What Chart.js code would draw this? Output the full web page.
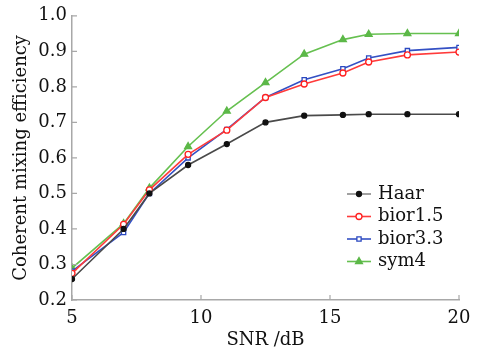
<!DOCTYPE html>
<html>
<head>
<meta charset="utf-8">
<script src="https://cdn.jsdelivr.net/npm/chart.js@4"></script>
<style>
html, body { margin: 0; padding: 0; background: #fff; }
</style>
</head>
<body>
<canvas id="chart" width="484" height="347"></canvas>
<script>
// Data
const snr = [5, 7, 8, 9.5, 11, 12.5, 14, 15.5, 16.5, 18, 20];
const haar = [0.259, 0.40, 0.50, 0.58, 0.639, 0.70, 0.719, 0.721, 0.723, 0.723, 0.723];
const bior15 = [0.275, 0.413, 0.51, 0.61, 0.678, 0.77, 0.808, 0.839, 0.87, 0.89, 0.898];
const bior33 = [0.281, 0.39, 0.50, 0.60, 0.68, 0.77, 0.82, 0.851, 0.881, 0.902, 0.911];
const sym4 = [0.29, 0.415, 0.515, 0.632, 0.732, 0.812, 0.892, 0.933, 0.948, 0.95, 0.95];
const seriesNames = ['Haar', 'bior1.5', 'bior3.3', 'sym4'];
const xTicks = [5, 10, 15, 20];
const yTicks = [0.2, 0.3, 0.4, 0.5, 0.6, 0.7, 0.8, 0.9, 1.0];

const FONT = "'DejaVu Serif', 'Liberation Serif', serif";
const AXIS_GREY = '#a8a8a8';

const toPoints = vals => snr.map((x, i) => ({ x: x, y: vals[i] }));

const styles = [
    { line: '#4a4a4a', point: '#111', fill: '#111', shape: 'circle', r: 2.5 },
    { line: '#ff3b3b', point: '#ff2020', fill: '#fff', shape: 'circle', r: 3 },
    { line: '#3450c4', point: '#2a48c0', fill: '#fff', shape: 'rect', r: 3 },
    { line: '#66c050', point: '#5cb848', fill: '#5cb848', shape: 'triangle', r: 4 }
];
const allValues = [haar, bior15, bior33, sym4];

const datasets = allValues.map((vals, i) => ({
    label: seriesNames[i],
    data: toPoints(vals),
    borderColor: styles[i].line,
    borderWidth: 1.6,
    pointStyle: styles[i].shape,
    pointRadius: styles[i].r,
    pointBorderColor: styles[i].point,
    pointBackgroundColor: styles[i].fill,
    pointBorderWidth: 1.3,
    tension: 0
}));

// short inward tick marks, like the original plot
const inwardTicks = {
    id: 'inwardTicks',
    afterDatasetsDraw(chart) {
        const { ctx, scales: { x, y } } = chart;
        ctx.save();
        ctx.strokeStyle = AXIS_GREY;
        ctx.lineWidth = 1.2;
        ctx.beginPath();
        xTicks.forEach(v => {
            const px = x.getPixelForValue(v);
            ctx.moveTo(px, y.bottom);
            ctx.lineTo(px, y.bottom - 5);
        });
        yTicks.forEach(v => {
            const py = y.getPixelForValue(v);
            ctx.moveTo(x.left, py);
            ctx.lineTo(x.left + 5, py);
        });
        ctx.stroke();
        ctx.restore();
    }
};

// legend: line segment with marker, then label
const lineLegend = {
    id: 'lineLegend',
    afterDraw(chart) {
        const ctx = chart.ctx;
        const x0 = 347, x1 = 371, tx = 378, top = 194, step = 22.5;
        ctx.save();
        ctx.font = '18px ' + FONT;
        ctx.textBaseline = 'middle';
        chart.data.datasets.forEach((ds, i) => {
            const yy = top + i * step;
            const s = styles[i];
            ctx.strokeStyle = i === 0 ? '#8a8a8a' : s.line;
            ctx.lineWidth = 1.6;
            ctx.beginPath();
            ctx.moveTo(x0, yy);
            ctx.lineTo(x1, yy);
            ctx.stroke();
            ctx.fillStyle = s.fill;
            ctx.strokeStyle = s.point;
            ctx.lineWidth = 1.3;
            Chart.helpers.drawPoint(ctx, {
                pointStyle: s.shape,
                radius: s.r,
                borderWidth: 1.3
            }, (x0 + x1) / 2, yy);
            ctx.fillStyle = '#111';
            ctx.fillText(ds.label, tx, yy);
        });
        ctx.restore();
    }
};

new Chart(document.getElementById('chart'), {
    type: 'line',
    data: { datasets: datasets },
    options: {
        responsive: false,
        animation: false,
        layout: { padding: { top: 15, right: 25, left: 0, bottom: 0 } },
        plugins: {
            legend: { display: false },
            tooltip: { enabled: false }
        },
        scales: {
            x: {
                type: 'linear',
                min: 5,
                max: 20,
                afterBuildTicks: axis => { axis.ticks = xTicks.map(v => ({ value: v })); },
                afterFit: axis => { axis.height = 47; },
                grid: { display: false, drawTicks: false },
                border: { color: AXIS_GREY, width: 1.5 },
                ticks: { color: '#111', padding: 8, font: { family: FONT, size: 18 } },
                title: {
                    display: true,
                    text: 'SNR /dB',
                    color: '#111',
                    padding: { top: 0, bottom: -4 },
                    font: { family: FONT, size: 18 }
                }
            },
            y: {
                min: 0.2,
                max: 1.0,
                afterBuildTicks: axis => { axis.ticks = yTicks.map(v => ({ value: v })); },
                afterFit: axis => { axis.width = 72; },
                grid: { display: false, drawTicks: false },
                border: { color: AXIS_GREY, width: 1.5 },
                ticks: {
                    color: '#111',
                    padding: 5,
                    font: { family: FONT, size: 18 },
                    callback: v => v.toFixed(1)
                },
                title: {
                    display: true,
                    text: 'Coherent mixing efficiency',
                    color: '#111',
                    padding: { top: 11, bottom: 0 },
                    font: { family: FONT, size: 18 }
                }
            }
        }
    },
    plugins: [inwardTicks, lineLegend]
});
</script>
</body>
</html>
